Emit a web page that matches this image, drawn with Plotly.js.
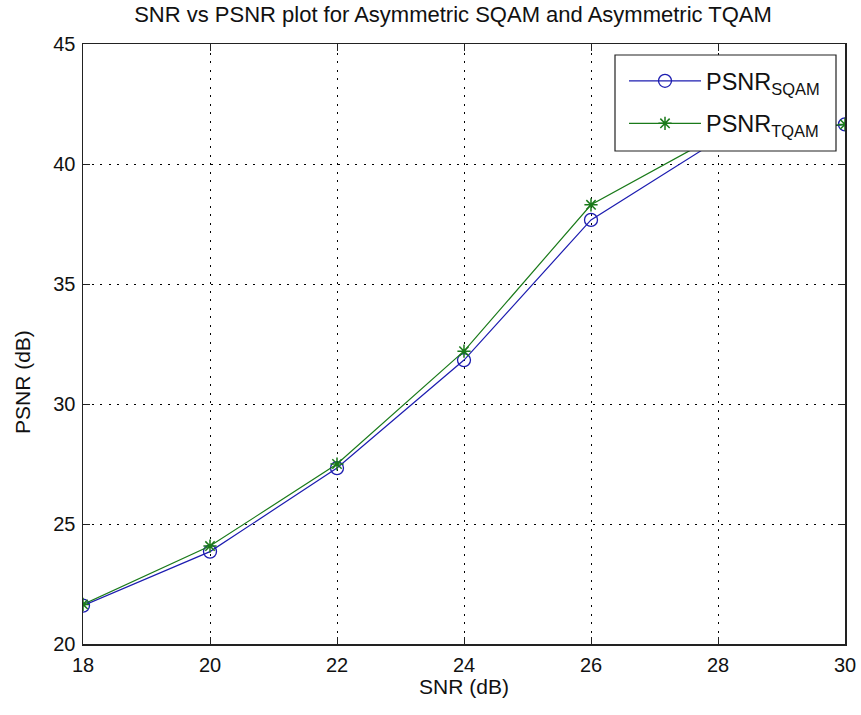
<!DOCTYPE html>
<html>
<head>
<meta charset="utf-8">
<script src="https://cdn.plot.ly/plotly-3.0.1.min.js"></script>
<style>html,body{margin:0;padding:0;background:#fff;}#chart{width:861px;height:715px;}</style>
</head>
<body>
<div id="chart"></div>
<script>
const snr = [18, 20, 22, 24, 26, 28, 30];
const psnrSQAM = [21.6, 23.85, 27.33, 31.83, 37.67, 41.0, 41.65];
const psnrTQAM = [21.65, 24.08, 27.5, 32.2, 38.3, 41.2, 41.65];
const xTicks = [18, 20, 22, 24, 26, 28, 30];
const yTicks = [20, 25, 30, 35, 40, 45];

const font = {family: 'Liberation Sans, Arial, sans-serif', color: '#111'};
const f = s => Object.assign({size: s}, font);

// plot area in pixels (for converting layout positions)
const PL = 83, PR = 845, PT = 44, PB = 644;
const px = v => (v - PL) / (PR - PL);
const py = v => (PB - v) / (PB - PT);

const traces = [
  {x: snr, y: psnrSQAM, mode: 'lines+markers', name: 'PSNR<sub>SQAM</sub>', legendgroup: 'a',
   line: {color: '#1c1cb0', width: 1.2},
   marker: {symbol: 'circle-open', size: 13, color: '#1c1cb0', line: {width: 1.3, color: '#1c1cb0'}}},
  {x: snr, y: psnrTQAM, mode: 'lines+markers', name: 'PSNR<sub>TQAM</sub>', legendgroup: 'b',
   line: {color: '#1a7a1a', width: 1.2},
   marker: {symbol: 'asterisk-open', size: 11, color: '#1a7a1a', line: {width: 1.5, color: '#1a7a1a'}}}
];

const axisCommon = {
  showline: true, linecolor: '#222', linewidth: 1.5, mirror: 'ticks',
  ticks: 'inside', ticklen: 7, tickcolor: '#222', tickwidth: 1,
  showgrid: true, gridcolor: '#000', griddash: '2px,6.5px', gridwidth: 1,
  zeroline: false, tickfont: f(20)
};

const layout = {
  width: 861, height: 715,
  margin: {l: PL, r: 861 - PR, t: PT, b: 715 - PB},
  paper_bgcolor: '#fff', plot_bgcolor: '#fff',
  title: {text: 'SNR vs PSNR plot for Asymmetric SQAM and Asymmetric TQAM',
          font: f(22), x: 453/861, xanchor: 'center', y: 1 - 14/715, yanchor: 'middle'},
  xaxis: Object.assign({}, axisCommon, {range: [18, 30], tickvals: xTicks, ticktext: xTicks.map(String),
          ticklabelstandoff: 2,
          title: {text: 'SNR (dB)', font: f(21), standoff: 4}}),
  yaxis: Object.assign({}, axisCommon, {range: [20, 45], tickvals: yTicks, ticktext: yTicks.map(String),
          ticklabelstandoff: 2}),
  annotations: [
    {text: 'PSNR (dB)', xref: 'paper', yref: 'paper', x: px(22),
     y: py(382), textangle: -90, showarrow: false, font: f(21),
     xanchor: 'center', yanchor: 'middle'}
  ],
  shapes: [
    {type: 'rect', xref: 'paper', yref: 'paper', layer: 'above',
     x0: px(615), x1: px(836), y0: py(151), y1: py(55),
     fillcolor: '#fff', line: {color: '#222', width: 1.2}}
  ],
  showlegend: true,
  legend: {x: px(624), y: py(59), xanchor: 'left', yanchor: 'top', bgcolor: 'rgba(0,0,0,0)',
           borderwidth: 0, font: f(23.5),
           itemwidth: 72, tracegroupgap: 9, traceorder: 'grouped'}
};

Plotly.newPlot('chart', traces, layout, {displayModeBar: false, staticPlot: true});
</script>
</body>
</html>
